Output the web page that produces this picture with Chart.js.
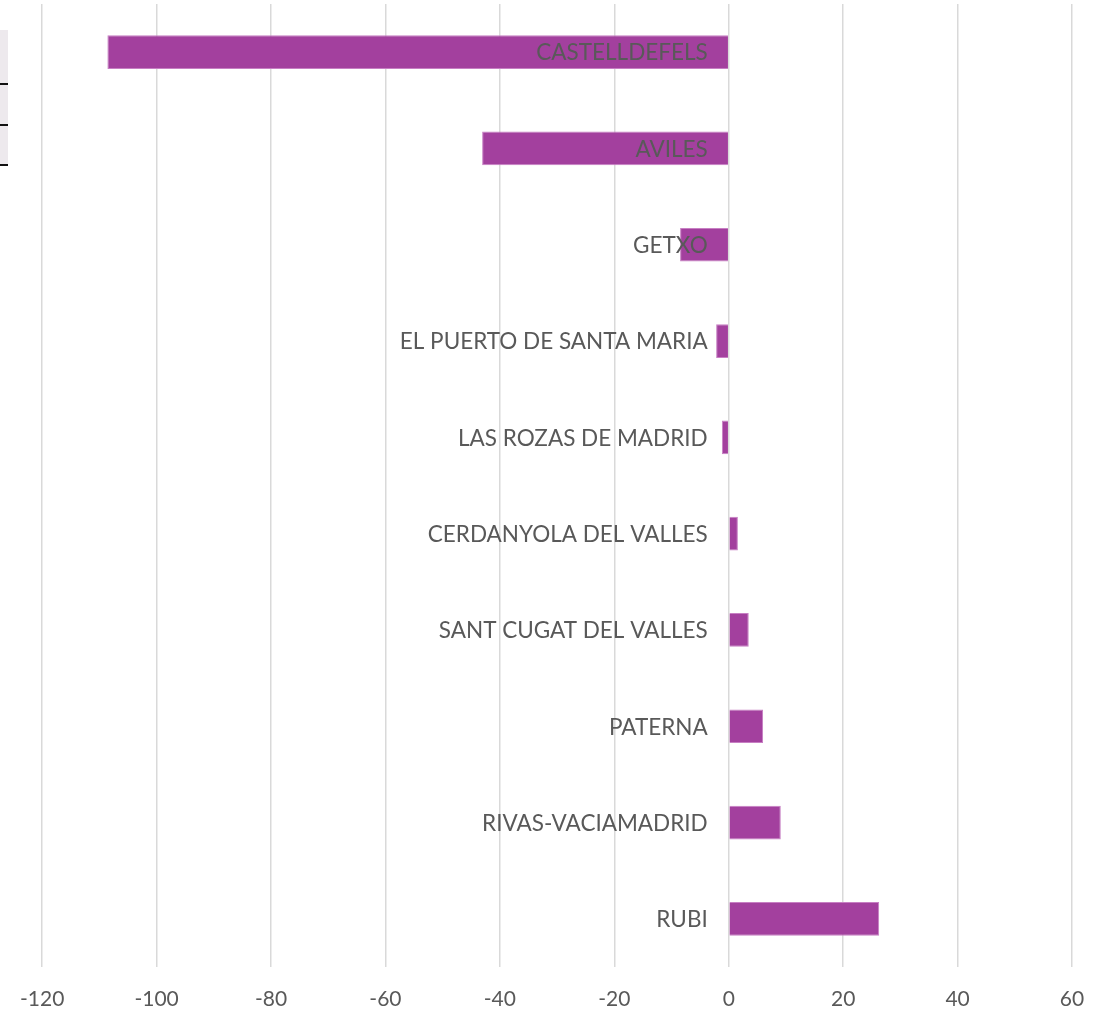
<!DOCTYPE html>
<html>
<head>
<meta charset="utf-8">
<script src="https://cdn.jsdelivr.net/npm/chart.js@4"></script>
<style>
    html, body { margin: 0; padding: 0; background: #fff; }
    #wrap { position: relative; width: 1114px; height: 1011px; }
    #side { position: absolute; left: 0; top: 30px; width: 8px; height: 136px; background: #ede9ed; }
    #side i { position: absolute; left: 0; width: 8px; height: 2px; background: #111; }
</style>
</head>
<body>
<div id="wrap">
    <canvas id="myChart" width="1114" height="1011"></canvas>
    <div id="side"><i style="top:53px"></i><i style="top:94px"></i><i style="top:134px"></i></div>
</div>
<script>
const cities = [
    "CASTELLDEFELS",
    "AVILES",
    "GETXO",
    "EL PUERTO DE SANTA MARIA",
    "LAS ROZAS DE MADRID",
    "CERDANYOLA DEL VALLES",
    "SANT CUGAT DEL VALLES",
    "PATERNA",
    "RIVAS-VACIAMADRID",
    "RUBI"
];
const values = [-108.6, -43.1, -8.5, -2.2, -1.2, 1.6, 3.5, 6.0, 9.1, 26.3];
const tickMin = -120;
const tickMax = 60;
const tickStep = 20;

const colors = {
    bar: "#a3409e",
    barEdge: "#c77fc3",
    text: "#595959",
    grid: "#d9d9d9"
};

const fontFamily = "Lato, 'Open Sans', sans-serif";

// city names drawn next to the zero line, right aligned, over the bars
const cityLabels = {
    id: "cityLabels",
    afterDatasetsDraw(chart) {
        const { ctx, scales } = chart;
        const x0 = scales.x.getPixelForValue(0);
        ctx.save();
        ctx.font = "22.5px " + fontFamily;
        ctx.fillStyle = colors.text;
        ctx.textAlign = "right";
        ctx.textBaseline = "middle";
        cities.forEach((name, i) => {
            ctx.fillText(name, x0 - 21, scales.y.getPixelForValue(i) + 1);
        });
        ctx.restore();
    }
};

const ctx = document.getElementById("myChart").getContext("2d");
new Chart(ctx, {
    type: "bar",
    data: {
        labels: cities,
        datasets: [{
            data: values,
            backgroundColor: colors.bar,
            borderColor: colors.barEdge,
            borderWidth: 1,
            borderSkipped: "start",
            barPercentage: 0.35,
            categoryPercentage: 1
        }]
    },
    options: {
        indexAxis: "y",
        responsive: false,
        animation: false,
        layout: { padding: { left: 40, right: 42, top: 4 } },
        plugins: {
            legend: { display: false },
            tooltip: { enabled: false }
        },
        scales: {
            x: {
                min: tickMin,
                max: tickMax,
                border: { display: false },
                grid: { color: colors.grid, lineWidth: 1.5, drawTicks: false },
                ticks: {
                    stepSize: tickStep,
                    padding: 20,
                    maxRotation: 0,
                    color: colors.text,
                    font: { family: fontFamily, size: 21 }
                },
                afterFit(scale) {
                    scale.height = 44;
                }
            },
            y: { display: false }
        }
    },
    plugins: [cityLabels]
});
</script>
</body>
</html>
